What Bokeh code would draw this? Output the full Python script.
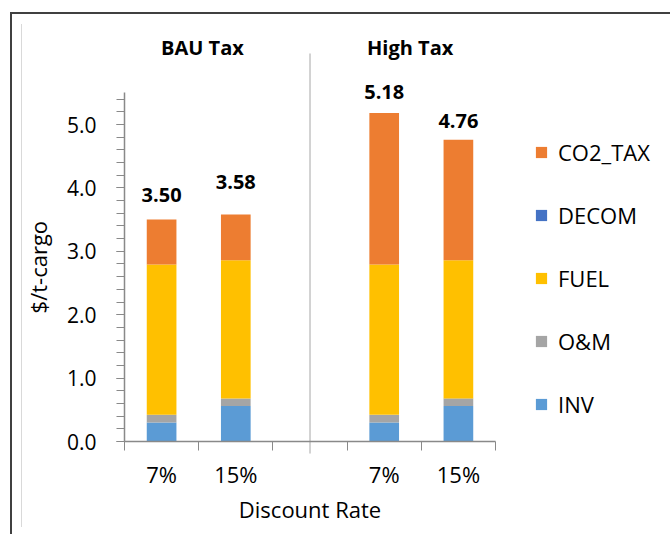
import math
from bokeh.plotting import figure
from bokeh.models import (Range1d, FixedTicker, LinearAxis, Legend, LegendItem,
                          ColumnDataSource, PrintfTickFormatter)
from bokeh.embed import file_html
from bokeh.resources import INLINE
from bokeh.core.properties import value

# ---------------- data ----------------
groups = ["BAU Tax", "High Tax"]
slots = ["7%", "15%", "", "7%", "15%"]          # "" = empty separator slot
components = ["INV", "O&M", "FUEL", "DECOM", "CO2_TAX"]
INV = [0.30, 0.56, 0.30, 0.56]
OM = [0.12, 0.12, 0.12, 0.12]
FUEL = [2.37, 2.18, 2.37, 2.18]
DECOM = [0.0, 0.0, 0.0, 0.0]
CO2_TAX = [0.71, 0.72, 2.39, 1.90]
y_ticks = [0, 1, 2, 3, 4, 5]
y_max = 5.5
x_title = "Discount Rate"
y_title = "$/t-cargo"

# ---------------- derived ----------------
bar_x = [i + 0.5 for i, s in enumerate(slots) if s]
bar_lab = [s for s in slots if s]
totals = [a + b + c + d + e for a, b, c, d, e in zip(INV, OM, FUEL, DECOM, CO2_TAX)]
sep_x = slots.index("") + 0.5
n = len(slots)

colors = {"INV": "#5B9BD5", "O&M": "#A5A5A5", "FUEL": "#FFC000",
          "DECOM": "#4472C4", "CO2_TAX": "#ED7D31"}

src = ColumnDataSource(dict(x=bar_x, INV=INV, OM=OM, FUEL=FUEL, DECOM=DECOM, CO2_TAX=CO2_TAX,
                            total=totals, tl=[f"{t:.2f}" for t in totals],
                            yoff=[-25, -33, -21, -19]))

# ---------------- layout (pixels) ----------------
W, H = 670, 534
X0_PX, PX_PER_X = 124, 74.2       # where x=0 sits, pixels per slot
Y0_PX, PX_PER_Y = 441, 63.4       # where y=0 sits, pixels per unit
x_rng = Range1d(-X0_PX / PX_PER_X, (W - X0_PX) / PX_PER_X)
y_rng = Range1d(-(H - Y0_PX) / PX_PER_Y, Y0_PX / PX_PER_Y)

FONT = "Open Sans"
p = figure(width=W, height=H, x_range=x_rng, y_range=y_rng,
           output_backend="svg", toolbar_location=None,
           x_axis_location=None, y_axis_location=None,
           min_border_left=0, min_border_right=0, min_border_top=0, min_border_bottom=0)
p.grid.visible = False
p.outline_line_color = None
p.background_fill_color = None
p.border_fill_color = None
p.styles = {
    "background": ("linear-gradient(#404040,#404040) 10px 12px / 100% 2px no-repeat, "
                   "linear-gradient(#404040,#404040) 10px 12px / 2px 100% no-repeat, "
                   "linear-gradient(#d9d9d9,#d9d9d9) 21px 24px / 1px 503px no-repeat, #ffffff"),
}

stack_cols = ["INV", "OM", "FUEL", "DECOM", "CO2_TAX"]
rends = p.vbar_stack(stack_cols, x="x", width=0.4, source=src,
                     color=[colors[c] for c in components], line_color=None)

# separator line between groups
p.segment(x0=[sep_x], y0=[-0.19], x1=[sep_x], y1=[6.12], line_color="#a6a6a6", line_width=1)

# group titles
p.text(x=[1.05, 3.85], y=[6.22, 6.22], text=groups, text_align="center",
       text_baseline="alphabetic", text_font=value(FONT), text_font_style="bold",
       text_font_size="20px", text_color="#000000")

# total labels
p.text(x="x", y="total", text="tl", y_offset="yoff", source=src, text_align="center",
       text_baseline="alphabetic", text_font=value(FONT), text_font_style="bold",
       text_font_size="20px", text_color="#000000")

# axis titles
p.text(x=[n / 2], y=[-1.07], text=[x_title], text_align="center", text_baseline="middle",
       text_font=value(FONT), text_font_size="22px", text_color="#000000")
p.text(x=[-1.16], y=[y_max / 2], text=[y_title], angle=math.pi / 2, text_align="center",
       text_baseline="middle", text_font=value(FONT), text_font_size="22px", text_color="#000000")

axis_col = "#898989"
# y axis
yax = LinearAxis(bounds=(0, y_max), fixed_location=0,
                 ticker=FixedTicker(ticks=y_ticks, minor_ticks=[round(0.2 * i, 1) for i in range(28)]),
                 formatter=PrintfTickFormatter(format="%.1f"))
yax.axis_line_color = axis_col
yax.axis_line_width = 1.5
yax.major_tick_line_color = axis_col
yax.minor_tick_line_color = axis_col
yax.major_tick_out = 8
yax.major_tick_in = 0
yax.minor_tick_out = 8
yax.minor_tick_in = 0
yax.major_label_text_font = FONT
yax.major_label_text_font_size = "21px"
yax.major_label_text_color = "#000000"
yax.major_label_standoff = 20
p.add_layout(yax, "left")

# x axis: boundary ticks as minor ticks, category labels at slot centres
xax = LinearAxis(bounds=(0, n), fixed_location=0,
                 ticker=FixedTicker(ticks=bar_x, minor_ticks=[0, 1, 2, 3, 4, 5]),
                 major_label_overrides={x: l for x, l in zip(bar_x, bar_lab)})
xax.axis_line_color = axis_col
xax.axis_line_width = 1.5
xax.major_tick_line_color = None
xax.major_tick_out = 9
xax.major_tick_in = 0
xax.minor_tick_line_color = axis_col
xax.minor_tick_out = 9
xax.minor_tick_in = 0
xax.major_label_text_font = FONT
xax.major_label_text_font_size = "22px"
xax.major_label_text_color = "#000000"
xax.major_label_standoff = 8
p.add_layout(xax, "below")

# legend
items = [LegendItem(label=components[i], renderers=[rends[i]]) for i in reversed(range(len(components)))]
leg = Legend(items=items, location=(534, 115), orientation="vertical",
             glyph_width=14, glyph_height=14, label_standoff=10, spacing=33,
             padding=0, margin=0, border_line_color=None, background_fill_alpha=0,
             label_text_font=FONT, label_text_font_size="22px", label_text_color="#000000")
p.add_layout(leg, "center")

open("out.html", "w").write(file_html(p, INLINE))
